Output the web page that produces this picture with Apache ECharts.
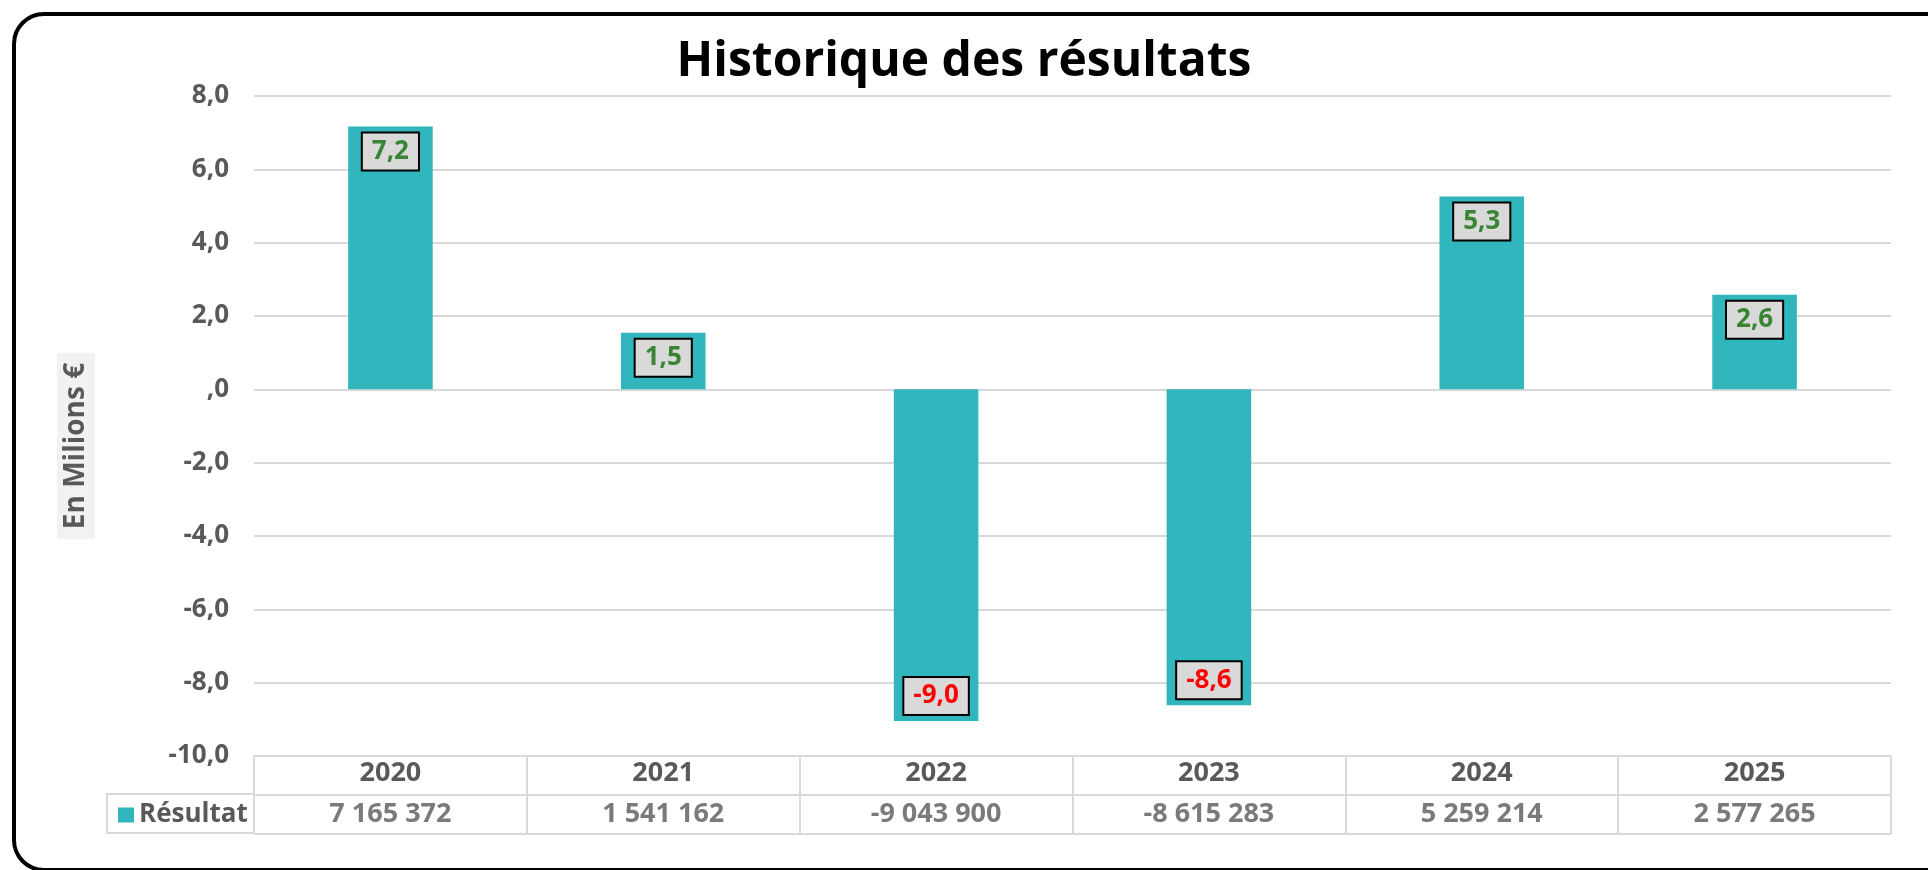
<!DOCTYPE html>
<html>
<head>
<meta charset="utf-8">
<title>Historique des résultats</title>
<script src="https://cdn.jsdelivr.net/npm/echarts@6/dist/echarts.min.js"></script>
<style>
  html, body { margin: 0; padding: 0; background: #fff; }
  #chart { width: 1928px; height: 870px; }
</style>
</head>
<body>
<div id="chart"></div>
<script>
// données du graphique
const years = ["2020", "2021", "2022", "2023", "2024", "2025"];
const resultats = [7165372, 1541162, -9043900, -8615283, 5259214, 2577265];
const serieName = "Résultat";
const yMin = -10;
const yMax = 8;
const yStep = 2;

const FONT = "Open Sans";
const GREY = "#595959";
const LINE = "#d9d9d9";
const TEAL = "#31b6bd";

// 7 165 372 -> espaces comme séparateur de milliers
function formatEuros(v) {
  const s = String(Math.abs(v)).replace(/\B(?=(\d{3})+(?!\d))/g, " ");
  return (v < 0 ? "-" : "") + s;
}
// 7.2 -> "7,2" ; 0 -> ",0" (format Excel)
function formatMillions(v) {
  if (v === 0) return ",0";
  return v.toFixed(1).replace(".", ",");
}

const chart = echarts.init(document.getElementById("chart"));

const barData = resultats.map(v => {
  const m = v / 1e6;
  return {
    value: m,
    label: {
      position: m >= 0 ? "insideTop" : "insideBottom",
      color: m >= 0 ? "#3a8534" : "#ff0000"
    }
  };
});

const option = {
  animation: false,
  backgroundColor: "#fff",
  textStyle: { fontFamily: FONT },
  title: {
    text: "Historique des résultats",
    left: "center",
    top: 33,
    textStyle: {
      fontFamily: FONT,
      fontSize: 48,
      fontWeight: "bold",
      color: "#000"
    }
  },
  legend: {
    data: [serieName],
    left: 113,
    top: 797,
    icon: "rect",
    itemWidth: 16,
    itemHeight: 15,
    itemGap: 4,
    selectedMode: false,
    textStyle: {
      fontFamily: FONT,
      fontSize: 26,
      fontWeight: "bold",
      color: GREY
    }
  },
  grid: [
    { left: 254, right: 37, top: 96, height: 660 },
    { left: 254, right: 37, top: 756, height: 78 }
  ],
  xAxis: [
    {
      type: "category",
      gridIndex: 0,
      data: years,
      axisLine: { show: false },
      axisTick: { show: false },
      axisLabel: {
        margin: 4,
        fontFamily: FONT,
        fontSize: 27,
        fontWeight: "bold",
        color: GREY
      }
    },
    {
      type: "category",
      gridIndex: 1,
      data: years,
      axisLine: { show: false },
      axisTick: { show: false },
      axisLabel: { show: false },
      splitLine: {
        show: true,
        interval: 0,
        lineStyle: { color: LINE, width: 2 }
      }
    }
  ],
  yAxis: [
    {
      type: "value",
      gridIndex: 0,
      min: yMin,
      max: yMax,
      interval: yStep,
      axisLine: { show: false },
      axisTick: { show: false },
      axisLabel: {
        margin: 25,
        fontFamily: FONT,
        fontSize: 26,
        fontWeight: "bold",
        color: GREY,
        formatter: formatMillions
      },
      splitLine: { lineStyle: { color: LINE, width: 2 } }
    },
    {
      type: "value",
      gridIndex: 1,
      min: 0,
      max: 2,
      interval: 1,
      axisLine: { show: false },
      axisTick: { show: false },
      axisLabel: { show: false },
      splitLine: { lineStyle: { color: LINE, width: 2 } }
    }
  ],
  graphic: [
    {
      // case de la légende dans le tableau
      type: "rect",
      shape: { x: 107, y: 794, width: 147, height: 39 },
      style: { fill: "none", stroke: LINE, lineWidth: 2 },
      z: 0
    },
    {
      type: "text",
      x: 76,
      y: 446,
      rotation: Math.PI / 2,
      style: {
        text: "En Milions €",
        font: "bold 28px 'Open Sans'",
        fill: GREY,
        align: "center",
        verticalAlign: "middle",
        backgroundColor: "#f2f2f2",
        padding: [5, 10]
      }
    },
    {
      // cadre arrondi
      type: "rect",
      shape: { x: 14, y: 14, width: 1950, height: 856, r: 30 },
      style: { fill: "none", stroke: "#000", lineWidth: 4 },
      z: 100
    }
  ],
  series: [
    {
      name: serieName,
      type: "bar",
      xAxisIndex: 0,
      yAxisIndex: 0,
      data: barData,
      barWidth: "31%",
      itemStyle: { color: TEAL },
      label: {
        show: true,
        distance: 7,
        formatter: p => formatMillions(p.value),
        fontFamily: FONT,
        fontSize: 26,
        fontWeight: "bold",
        lineHeight: 28,
        backgroundColor: "#d9d9d9",
        borderColor: "#000",
        borderWidth: 2,
        padding: [4, 9]
      }
    },
    {
      // ligne des valeurs du tableau
      name: "table",
      type: "scatter",
      xAxisIndex: 1,
      yAxisIndex: 1,
      symbolSize: 1,
      itemStyle: { color: "rgba(0,0,0,0)" },
      silent: true,
      data: resultats.map((v, i) => [years[i], 0.5]),
      label: {
        show: true,
        position: "inside",
        formatter: p => formatEuros(resultats[p.dataIndex]),
        fontFamily: FONT,
        fontSize: 27,
        fontWeight: "bold",
        color: GREY
      }
    }
  ]
};

chart.setOption(option);
</script>
</body>
</html>
